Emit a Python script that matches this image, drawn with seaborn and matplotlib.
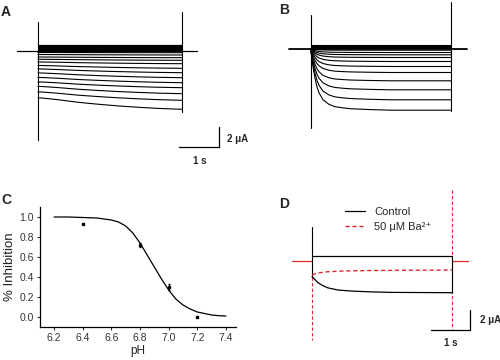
import numpy as np
import pandas as pd
import matplotlib
matplotlib.use("Agg")
import matplotlib.pyplot as plt
import seaborn as sns

sns.set_style("white")
plt.rcParams['font.family'] = ['Liberation Sans', 'DejaVu Sans']

W, H = 500, 360

# ---------------- data ----------------
# Panel A: slowly activating currents (uA), 3.6 s pulses
a_band = [0.65, 0.57, 0.49, 0.41, 0.33, 0.25, 0.17, 0.10]
a_start = [-0.15, -0.35, -0.6, -0.83, -1.1, -1.45, -1.8, -2.2, -2.65, -3.1, -3.55, -4.1, -4.7]
a_end = [-0.17, -0.4, -0.67, -0.93, -1.27, -1.73, -2.17, -2.67, -3.17, -3.67, -4.27, -4.93, -5.83]
a_prof_t = [0.0, 0.1, 0.5, 1.0, 1.5, 2.0, 2.5, 3.0, 3.6]
a_prof_f = [0.0, 0.0, 0.15, 0.38, 0.55, 0.70, 0.82, 0.92, 1.0]

# Panel B: fast activating currents (uA), 3.5 s pulses
b_band = [0.37, 0.30, 0.24, 0.18, 0.12, 0.06, 0.02]
b_start = [-0.05, -0.06, -0.08, -0.1, -0.12, -0.15, -0.18, -0.22, -0.26, -0.3, -0.35]
b_end = [-0.17, -0.4, -0.63, -0.9, -1.3, -1.8, -2.4, -3.23, -4.13, -5.13, -6.17]
b_prof_t = [0.0, 0.05, 0.1, 0.15, 0.2, 0.3, 0.45, 0.6, 0.8, 1.0, 1.5, 2.0, 3.5]
b_prof_f = [0.0, 0.25, 0.45, 0.6, 0.7, 0.82, 0.9, 0.94, 0.96, 0.975, 0.99, 1.0, 1.0]

# Panel C: pH dependence of inhibition
ph_fit = [6.2, 6.3, 6.4, 6.5, 6.6, 6.65, 6.7, 6.75, 6.8, 6.85, 6.9, 6.95, 7.0,
          7.05, 7.1, 7.15, 7.2, 7.25, 7.3, 7.35, 7.4]
inh_fit = [1.0, 1.0, 0.995, 0.99, 0.97, 0.95, 0.91, 0.84, 0.74, 0.62, 0.5, 0.38,
           0.27, 0.18, 0.12, 0.08, 0.05, 0.035, 0.02, 0.013, 0.01]
ph_pts = [6.4, 6.8, 7.0, 7.2]
inh_pts = [0.93, 0.72, 0.30, 0.0]
inh_err = [0.0, 0.02, 0.03, 0.0]

# Panel D: control vs 50 uM Ba2+
d_ctrl_top = 0.5
d_ctrl_t = [0.0, 0.05, 0.1, 0.15, 0.25, 0.4, 0.65, 1.0, 1.5, 2.0, 3.5]
d_ctrl_i = [-1.57, -1.76, -1.97, -2.16, -2.42, -2.69, -2.9, -3.01, -3.09, -3.14, -3.17]
d_ba_t = [0.0, 0.1, 0.2, 0.4, 0.8, 1.5, 3.5]
d_ba_i = [-1.4, -1.25, -1.17, -1.07, -1.0, -0.95, -0.9]

RED = '#e0282e'

fig = plt.figure(figsize=(5, 3.6), dpi=100)


def trace_ax(box, origin, px_s=40.0, px_ua=10.0):
    x0, y0, x1, y1 = box
    ox, oy = origin
    ax = fig.add_axes([x0 / W, (H - y1) / H, (x1 - x0) / W, (y1 - y0) / H])
    ax.set_xlim((x0 - ox) / px_s, (x1 - ox) / px_s)
    ax.set_ylim((oy - y1) / px_ua, (oy - y0) / px_ua)
    ax.axis('off')
    return ax


def traces_df(band, starts, ends, pt, pf, dur):
    rows = []
    k = 0
    for v in band:
        for t in (0.0, dur):
            rows.append((k, t, v))
        k += 1
    for s, e in zip(starts, ends):
        for t, f in zip(pt, pf):
            rows.append((k, t, s + (e - s) * f))
        k += 1
    return pd.DataFrame(rows, columns=['trace', 't', 'I'])


# ---------------- Panel A ----------------
axA = trace_ax((0, 0, 250, 175), (38, 51))
dfA = traces_df(a_band, a_start, a_end, a_prof_t, a_prof_f, 3.6)
sns.lineplot(data=dfA, x='t', y='I', units='trace', estimator=None, color='k',
             lw=0.8, sort=False, ax=axA, legend=False)
axA.plot([-0.525, 3.975], [0, 0], color='k', lw=0.9)
axA.plot([0, 0], [2.9, -8.9], color='k', lw=0.8)
axA.plot([3.6, 3.6], [3.9, -6.1], color='k', lw=0.8)
# scale bar
axA.plot([3.525, 4.525, 4.525], [-9.6, -9.6, -7.6], color='k', lw=0.9, clip_on=False)
axA.text(4.725, -8.8, '2 μA', fontsize=7, fontweight='bold', va='center', ha='left')
axA.text(4.05, -10.95, '1 s', fontsize=7, fontweight='bold', va='center', ha='center')
fig.text(6 / W, 1 - 12 / H, 'A', fontsize=10, fontweight='bold', ha='center', va='center')

# ---------------- Panel B ----------------
axB = trace_ax((260, 0, 500, 175), (311, 48.5))
dfB = traces_df(b_band, b_start, b_end, b_prof_t, b_prof_f, 3.5)
sns.lineplot(data=dfB, x='t', y='I', units='trace', estimator=None, color='k',
             lw=0.8, sort=False, ax=axB, legend=False)
axB.plot([-0.55, 3.9], [0, 0], color='k', lw=1.3)
axB.plot([0, 0], [3.35, -7.95], color='k', lw=0.8)
axB.plot([3.5, 3.5], [4.65, -6.2], color='k', lw=0.8)
fig.text(284 / W, 1 - 10 / H, 'B', fontsize=10, fontweight='bold', ha='center', va='center')

# ---------------- Panel C ----------------
axC = fig.add_axes([40 / W, (H - 327) / H, 196 / W, 120 / H])
sns.lineplot(x=ph_fit, y=inh_fit, color='k', lw=0.9, ax=axC, sort=False)
axC.errorbar(ph_pts, inh_pts, yerr=inh_err, fmt='s', ms=1.5, color='k',
             elinewidth=0.8, capsize=1)
axC.set_xlim(6.102, 7.47)
axC.set_ylim(-0.1, 1.1)
axC.set_xticks([6.2, 6.4, 6.6, 6.8, 7.0, 7.2, 7.4])
axC.set_yticks([0.0, 0.2, 0.4, 0.6, 0.8, 1.0])
axC.xaxis.set_major_formatter(matplotlib.ticker.FormatStrFormatter('%.1f'))
axC.yaxis.set_major_formatter(matplotlib.ticker.FormatStrFormatter('%.1f'))
axC.tick_params(axis='both', labelsize=7.5, length=2.5, width=0.8, pad=2,
                colors='#333333', direction='out', bottom=True, left=True)
for s in ('top', 'right'):
    axC.spines[s].set_visible(False)
for s in ('left', 'bottom'):
    axC.spines[s].set_color('k')
    axC.spines[s].set_linewidth(0.9)
axC.set_xlabel('pH', fontsize=8.5, labelpad=1, color='#222222')
axC.set_ylabel('% Inhibition', fontsize=9.5, labelpad=2, color='#222222')
fig.text(6 / W, 1 - 200 / H, 'C', fontsize=10, fontweight='bold', ha='center', va='center')

# ---------------- Panel D ----------------
axD = trace_ax((260, 185, 500, 360), (312, 261))
axD.plot([-0.5, 0], [0, 0], color=RED, lw=0.9)
axD.plot([3.5, 3.9], [0, 0], color=RED, lw=0.9)
axD.plot([0, 0], [3.4, -1.6], color='k', lw=0.8)
axD.plot([0, 0], [-1.6, -7.9], color=RED, lw=0.8, ls=(0, (3, 2)))
axD.plot([3.5, 3.5], [7.1, -6.9], color=RED, lw=0.8, ls=(0, (3, 2)))
axD.plot([3.5, 3.5], [d_ctrl_top, d_ctrl_i[-1]], color='k', lw=0.8)
sns.lineplot(x=[0.0, 3.5], y=[d_ctrl_top, d_ctrl_top], color='k', lw=0.9, ax=axD)
sns.lineplot(x=d_ctrl_t, y=d_ctrl_i, color='k', lw=0.9, ax=axD, sort=False,
             label='Control')
sns.lineplot(x=d_ba_t, y=d_ba_i, color=RED, lw=1.0, ax=axD, sort=False,
             dashes=False, label='50 μM Ba²⁺')
axD.lines[-1].set_linestyle((0, (3, 2)))
leg = axD.legend(loc='upper left', bbox_to_anchor=(345 / W, 1 - 207 / H),
                 bbox_transform=fig.transFigure, frameon=False, fontsize=8,
                 handlelength=1.8, handletextpad=0.8, labelspacing=0.45,
                 borderpad=0, borderaxespad=0)
leg.get_lines()[1].set_linestyle((0, (3, 2)))
# scale bar
axD.plot([2.975, 3.95, 3.95], [-6.9, -6.9, -4.9], color='k', lw=0.9, clip_on=False)
axD.text(4.2, -5.9, '2 μA', fontsize=7, fontweight='bold', va='center', ha='left')
axD.text(3.475, -8.2, '1 s', fontsize=7, fontweight='bold', va='center', ha='center')
fig.text(284 / W, 1 - 204 / H, 'D', fontsize=10, fontweight='bold', ha='center', va='center')

fig.savefig('out.png', dpi=100)
